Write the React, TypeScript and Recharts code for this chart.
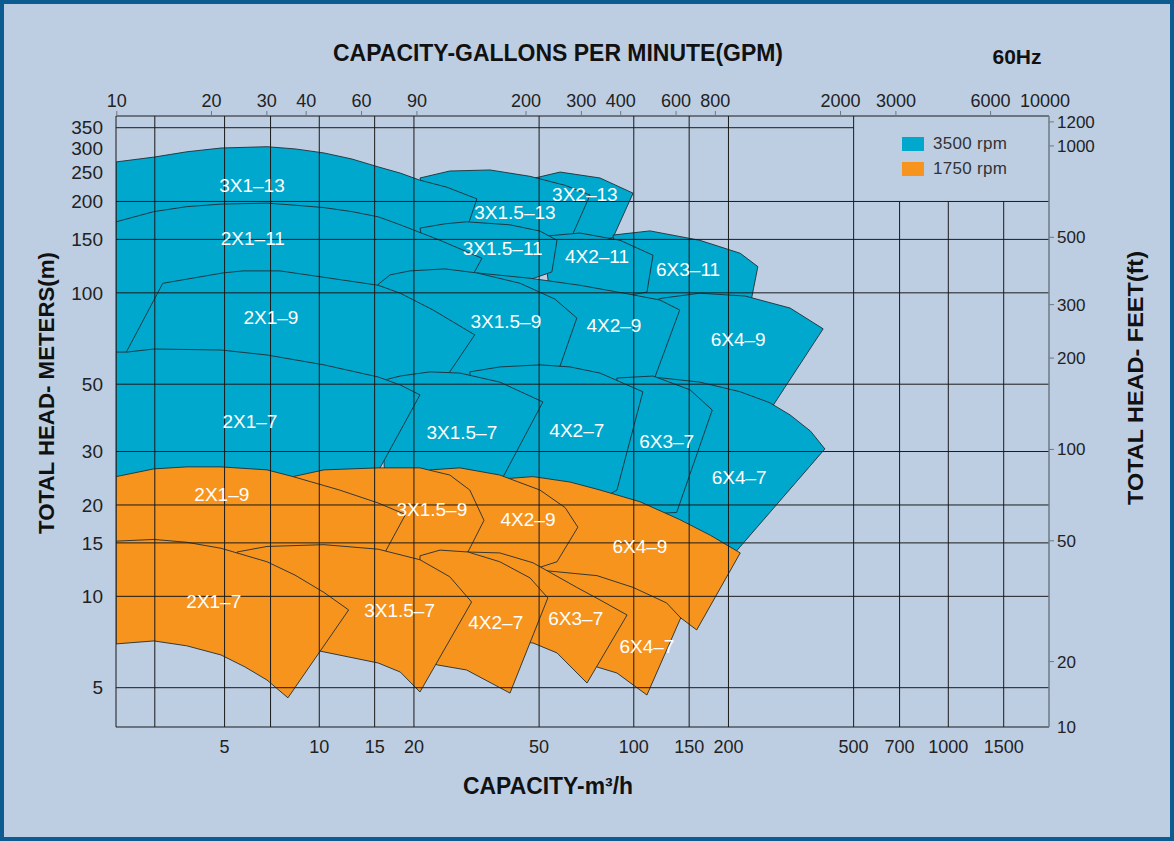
import React from 'react'
import { ComposedChart, Area, XAxis, YAxis, ReferenceLine, ReferenceDot, Legend } from 'recharts'

const WIDTH = 1174
const HEIGHT = 841
const MARGIN = { top: 86, right: 65, bottom: 84, left: 56 }
const AXIS_W = 60
const AXIS_H = 30
const PLOT_RIGHT = WIDTH - MARGIN.right - AXIS_W
const PLOT_TOP = MARGIN.top + AXIS_H
const PLOT_BOTTOM = HEIGHT - MARGIN.bottom - AXIS_H

const BG = '#bdcee3'
const FRAME = '#0c5b91'
const CYAN = '#00a8cd'
const ORANGE = '#f7941d'
const EDGE = '#1f2e36'
const GRID = '#1a1a1a'
const TEXT = '#222'
const AXIS_GRAY = '#6e7884'
const FONT = '"Liberation Sans", Arial, sans-serif'

// axes (log): capacity m3/h, head m; top axis in GPM, right axis in feet
const FLOW_DOMAIN = [2.258, 2090]
const GPM_PER_M3H = 4.403
const HEAD_DOMAIN = [3.711, 382.5]
const FT_PER_M = 3.2808

const flowTicks = [5, 10, 15, 20, 50, 100, 150, 200, 500, 700, 1000, 1500]
const gpmTicks = [10, 20, 30, 40, 60, 90, 200, 300, 400, 600, 800, 2000, 3000, 6000, 10000]
const headTicks = [5, 10, 15, 20, 30, 50, 100, 150, 200, 250, 300, 350]
const feetTicks = [10, 20, 50, 100, 200, 300, 500, 1000, 1200]

const gridFlow = [3, 5, 7, 10, 15, 20, 50, 100, 150, 200, 500]
const gridFlowBelowLegend = [700, 1000, 1500]
const gridHead = [5, 10, 15, 20, 30, 50, 100, 150, 200]

// 3500 rpm regions, [m3/h, m] outlines
const c3x1_13 = [[2.26, 270], [2.98, 280], [3.79, 291.5], [4.87, 300], [6.82, 303], [8.37, 298], [10.35, 289], [12.7, 276], [15.4, 260], [18.1, 248], [20.9, 235], [25.4, 223], [31.7, 204], [29.0, 155], [18.1, 159], [8.68, 166], [4.17, 166], [2.26, 156]]
const c3x15_13 = [[20.9, 239], [26.0, 252], [34.9, 254], [46.8, 242], [60.5, 226], [72.6, 210], [63.6, 154], [43.5, 149], [24.2, 149]]
const c3x2_13 = [[48.5, 239], [58.3, 250], [78.1, 239], [99.5, 213], [85.9, 152], [62.7, 143.5], [50.3, 143.5]]
const c6x3_11 = [[85.9, 155], [112.6, 160], [162, 149], [218, 135], [248, 122], [237, 96.1], [162, 91.2], [112.6, 91.2], [90.4, 94.7]]
const c4x2_11 = [[51.4, 153.5], [67.4, 157.4], [90.4, 149], [115.1, 133], [110.1, 100.5], [78.1, 94.7], [54.1, 98.2]]
const c3x15_11 = [[20.9, 163.4], [25.1, 168.8], [29.4, 171.4], [40.4, 167.5], [50.3, 159.8], [57.0, 149], [54.9, 117.2], [37.5, 102], [22.5, 110]]
const c2x1_11 = [[2.26, 171.4], [2.98, 185.2], [3.79, 192.3], [4.87, 196], [6.82, 197.5], [8.37, 194.4], [10.35, 190.9], [12.7, 185.2], [15.4, 178], [18.1, 167.5], [24.2, 149], [32.9, 130], [30.5, 112.5], [30.5, 94.7], [12.5, 84.5], [4.17, 81.4], [2.69, 60.1], [2.26, 60.1]]
const c6x4_9 = [[116.8, 94.7], [123.7, 96.1], [162, 99.7], [226, 97.6], [314, 89.1], [400, 76.1], [275, 42.0], [162, 47.2], [116.8, 49.0]]
const c4x2_9 = [[31.7, 116.3], [46.8, 111.7], [67.4, 105.9], [97.3, 98.9], [121, 94.7], [140, 87.8], [116.8, 52.8], [78.1, 47.9], [50.3, 49.7], [34.9, 51.6]]
const c3x15_9 = [[15.4, 106.7], [16.8, 114.6], [19.4, 118.1], [25.1, 119.9], [31.7, 116.3], [43.5, 107.5], [56.1, 95.4], [65.9, 82.6], [58.3, 57.4], [37.5, 47.9], [24.2, 49.0], [16.8, 49.0]]
const c2x1_9 = [[3.18, 107.5], [4.94, 116.3], [5.72, 118.1], [7.5, 118.1], [10.35, 112.5], [15.4, 105.9], [18.1, 99.7], [23.0, 87.8], [31.2, 72.7], [26.0, 54.9], [26.0, 49.7], [15.6, 48.6], [8.68, 54.9], [4.17, 60.1], [2.39, 61.5]]
const c6x4_7 = [[115.1, 52.8], [162, 50.8], [218, 47.2], [270, 43.5], [314, 39.6], [365, 35.0], [405, 30.6], [209.5, 13.9], [162, 14.7], [121, 16.5], [116.8, 44.4]]
const c6x3_7 = [[88.4, 52.4], [115.1, 53.2], [151, 47.9], [177.6, 41.1], [136.9, 18.9], [104.6, 18.6], [84.0, 20.0]]
const c4x2_7 = [[30.1, 54.9], [37.5, 57.0], [50.3, 57.9], [62.7, 57.0], [78.1, 54.4], [106.9, 47.2], [88.4, 22.4], [78.1, 20.8], [50.3, 21.6], [32.4, 22.4]]
const c3x15_7 = [[15.6, 51.2], [18.1, 53.2], [22.5, 54.9], [28.0, 54.4], [37.5, 50.8], [51.4, 43.7], [38.3, 24.6], [38.3, 22.4], [20.9, 23.3], [16.2, 23.3]]
const c2x1_7 = [[2.26, 63.8], [2.45, 63.8], [2.98, 65.3], [4.87, 64.8], [6.82, 62.4], [10.35, 57.9], [15.4, 52.8], [18.1, 49.7], [20.9, 46.1], [15.1, 24.9], [15.1, 21.6], [6.02, 21.6], [2.26, 21.6]]

// 1750 rpm regions
const o6x4_9 = [[34.9, 24.2], [47.8, 24.8], [62.7, 23.8], [78.1, 22.4], [104.6, 20.5], [140, 17.9], [175, 15.9], [218, 13.9], [158.5, 7.75], [141, 8.49], [104.6, 9.73], [72.6, 10.9], [50.3, 11.3], [37.5, 11.3]]
const o4x2_9 = [[22.5, 26.1], [28.0, 26.5], [37.5, 25.1], [50.3, 22.4], [60.5, 19.6], [66.4, 16.9], [57.0, 13.0], [37.5, 11.3], [24.2, 11.7]]
const o3x15_9 = [[8.25, 24.8], [10.35, 26.1], [15.4, 26.5], [20.9, 26.5], [26.0, 25.1], [30.1, 22.4], [33.4, 17.8], [29.7, 14.0], [20.9, 11.3], [12.5, 10.9], [8.68, 11.3]]
const o2x1_9 = [[2.26, 24.8], [2.98, 26.3], [3.79, 26.7], [4.87, 26.7], [6.82, 26.1], [8.25, 24.8], [11.6, 22.4], [15.4, 20.3], [18.8, 18.6], [16.2, 14.0], [12.5, 11.3], [6.02, 11.3], [2.26, 11.3]]
const o6x4_7 = [[50.3, 12.2], [76.4, 11.7], [99.5, 10.7], [127.2, 9.51], [141, 8.49], [110.1, 4.73], [88.4, 5.59], [76.4, 5.85], [58.3, 6.91]]
const o6x3_7 = [[29.4, 14.0], [37.5, 13.9], [47.8, 12.9], [65.9, 10.7], [78.1, 9.73], [95.2, 8.68], [71.0, 5.18], [57.0, 6.51], [47.8, 7.02], [37.5, 7.18]]
const o4x2_7 = [[20.9, 13.6], [24.2, 14.2], [29.7, 14.0], [37.5, 13.0], [46.8, 11.5], [53.3, 9.88], [40.4, 4.8], [29.4, 5.72], [23.8, 5.94], [20.9, 6.17]]
const o3x15_7 = [[5.48, 14.0], [6.82, 14.6], [10.35, 14.8], [15.4, 14.3], [20.9, 13.2], [26.0, 11.6], [30.5, 9.58], [20.9, 4.84], [18.1, 5.63], [15.4, 6.03], [10.35, 6.56], [8.07, 6.91], [6.02, 8.36]]
const o2x1_7 = [[2.26, 15.2], [2.98, 15.4], [3.79, 15.07], [4.87, 14.4], [6.82, 13.0], [8.37, 11.75], [10.35, 10.3], [12.4, 9.02], [7.95, 4.63], [6.82, 5.3], [5.81, 5.85], [4.87, 6.41], [3.79, 6.87], [2.98, 7.13], [2.26, 6.97]]

// label anchors [name, m3/h, m]
const cyanLabels: [string, number, number][] = [
  ['3X1–13', 6.11, 226], ['3X1.5–13', 41.9, 184], ['3X2–13', 69.9, 211.5],
  ['2X1–11', 6.15, 151.3], ['3X1.5–11', 38.3, 140.1], ['4X2–11', 76.4, 131.9], ['6X3–11', 148.8, 119.9],
  ['2X1–9', 7.02, 83.3], ['3X1.5–9', 39.2, 80.8], ['4X2–9', 86.5, 78.4], ['6X4–9', 214.8, 70.4],
  ['2X1–7', 6.02, 37.8], ['3X1.5–7', 28.4, 34.8], ['4X2–7', 65.9, 35.3], ['6X3–7', 127.2, 32.5], ['6X4–7', 216.4, 24.6],
]
const orangeLabels: [string, number, number][] = [
  ['2X1–9', 4.9, 21.7], ['3X1.5–9', 22.8, 19.3], ['4X2–9', 46.1, 17.9], ['6X4–9', 104.6, 14.6],
  ['2X1–7', 4.62, 9.66], ['3X1.5–7', 18.0, 9.02], ['4X2–7', 36.4, 8.23], ['6X3–7', 65.4, 8.49], ['6X4–7', 110.1, 6.86],
]

const speeds = [
  { label: '3500 rpm', color: CYAN },
  { label: '1750 rpm', color: ORANGE },
]

// drawing order: upper rows first, right to left inside a row
const cyanRegions = [c3x2_13, c3x15_13, c3x1_13, c6x3_11, c4x2_11, c3x15_11, c2x1_11, c6x4_9, c4x2_9, c3x15_9, c2x1_9, c6x4_7, c6x3_7, c4x2_7, c3x15_7, c2x1_7]
const orangeRegions = [o6x4_9, o4x2_9, o3x15_9, o2x1_9, o6x4_7, o6x3_7, o4x2_7, o3x15_7, o2x1_7]

const outline = (pts: number[][]) => [...pts, pts[0]].map(([q, h]) => ({ q, h }))
const gpmRows = gpmTicks.map((gpm) => ({ gpm }))

function GpmTick(props: any) {
  const { x, payload } = props
  const inside = x <= PLOT_RIGHT + 0.5
  const tx = inside ? x : PLOT_RIGHT - 4
  return (
    <g>
      {inside && <line x1={x} x2={x} y1={PLOT_TOP} y2={PLOT_TOP - 5} stroke={AXIS_GRAY} />}
      <text x={tx} y={PLOT_TOP - 9} textAnchor="middle" fontSize={18} fill={TEXT} fontFamily={FONT}>
        {payload.value}
      </text>
    </g>
  )
}

function FeetTick(props: any) {
  const { y, payload } = props
  const inside = y <= PLOT_BOTTOM + 0.5
  const ty = inside ? y : PLOT_BOTTOM
  return (
    <g>
      {inside && <line x1={PLOT_RIGHT} x2={PLOT_RIGHT + 5} y1={y} y2={y} stroke={AXIS_GRAY} />}
      <text x={PLOT_RIGHT + 8} y={ty} dy="0.35em" fontSize={17} fill={TEXT} fontFamily={FONT}>
        {payload.value}
      </text>
    </g>
  )
}

function RpmLegend() {
  return (
    <div style={{ fontFamily: FONT }}>
      {speeds.map((s) => (
        <div key={s.label} style={{ display: 'flex', alignItems: 'center', height: 25 }}>
          <span style={{ display: 'inline-block', width: 22, height: 14, background: s.color, marginRight: 9 }} />
          <span style={{ fontSize: 17, color: '#333', letterSpacing: 0.3 }}>{s.label}</span>
        </div>
      ))}
    </div>
  )
}

export default function App() {
  return (
    <div style={{ position: 'absolute', left: 0, top: 0, width: WIDTH, height: HEIGHT, background: BG, overflow: 'hidden' }}>
      <ComposedChart width={WIDTH} height={HEIGHT} margin={MARGIN} data={gpmRows} style={{ fontFamily: FONT }}>
        <XAxis
          xAxisId="q" dataKey="q" type="number" scale="log" domain={FLOW_DOMAIN} allowDataOverflow
          ticks={flowTicks} interval={0} orientation="bottom" height={AXIS_H}
          tickLine={false} tickSize={0} tickMargin={13}
          axisLine={{ stroke: GRID }} tick={{ fontSize: 18, fill: TEXT }}
        />
        <XAxis
          xAxisId="gpm" dataKey="gpm" type="number" scale="log" allowDataOverflow
          domain={[FLOW_DOMAIN[0] * GPM_PER_M3H, FLOW_DOMAIN[1] * GPM_PER_M3H]}
          ticks={gpmTicks} interval={0} orientation="top" height={AXIS_H}
          tickLine={false} axisLine={{ stroke: GRID }} tick={<GpmTick />}
        />
        <YAxis
          yAxisId="m" type="number" scale="log" domain={HEAD_DOMAIN} allowDataOverflow
          ticks={headTicks} interval={0} orientation="left" width={AXIS_W}
          tickLine={false} tickSize={0} tickMargin={13}
          axisLine={{ stroke: GRID }} tick={{ fontSize: 19, fill: TEXT }}
        />
        <YAxis
          yAxisId="ft" type="number" scale="log" allowDataOverflow
          domain={[HEAD_DOMAIN[0] * FT_PER_M, HEAD_DOMAIN[1] * FT_PER_M]}
          ticks={feetTicks} interval={0} orientation="right" width={AXIS_W}
          tickLine={false} axisLine={{ stroke: AXIS_GRAY, strokeWidth: 1.5 }} tick={<FeetTick />}
        />

        {cyanRegions.map((r, i) => (
          <Area
            key={`c${i}`} xAxisId="q" yAxisId="m" data={outline(r)} dataKey="h" type="linear"
            fill={CYAN} fillOpacity={1} stroke={EDGE} strokeWidth={0.9}
            dot={false} activeDot={false} isAnimationActive={false}
          />
        ))}
        {orangeRegions.map((r, i) => (
          <Area
            key={`o${i}`} xAxisId="q" yAxisId="m" data={outline(r)} dataKey="h" type="linear"
            fill={ORANGE} fillOpacity={1} stroke={EDGE} strokeWidth={0.9}
            dot={false} activeDot={false} isAnimationActive={false}
          />
        ))}

        {gridFlow.map((v) => (
          <ReferenceLine key={`gx${v}`} xAxisId="q" yAxisId="m" x={v} stroke={GRID} strokeWidth={1} />
        ))}
        {gridFlowBelowLegend.map((v) => (
          <ReferenceLine
            key={`gxl${v}`} xAxisId="q" yAxisId="m" stroke={GRID} strokeWidth={1}
            segment={[{ x: v, y: 200 }, { x: v, y: HEAD_DOMAIN[0] }]}
          />
        ))}
        {gridHead.map((v) => (
          <ReferenceLine key={`gy${v}`} xAxisId="q" yAxisId="m" y={v} stroke={GRID} strokeWidth={1} />
        ))}
        <ReferenceLine
          xAxisId="q" yAxisId="m" stroke={GRID} strokeWidth={1}
          segment={[{ x: FLOW_DOMAIN[0], y: 350 }, { x: 500, y: 350 }]}
        />

        {cyanLabels.concat(orangeLabels).map(([name, q, h], i) => (
          <ReferenceDot
            key={`l${i}`} xAxisId="q" yAxisId="m" x={q} y={h} r={0} fill="none" stroke="none"
            label={{ value: name, position: 'center', fill: '#ffffff', fontSize: 19 }}
          />
        ))}

        <Legend
          layout="horizontal" verticalAlign="middle" align="center"
          content={() => <RpmLegend />}
          wrapperStyle={{ left: 902, top: 131, width: 150, height: 52 }}
        />
      </ComposedChart>

      <svg width={WIDTH} height={HEIGHT} style={{ position: 'absolute', left: 0, top: 0, pointerEvents: 'none' }}>
        <g fontFamily={FONT} fontWeight="bold" fill="#111">
          <text x={558} y={61} textAnchor="middle" fontSize={23} textLength={450} lengthAdjust="spacingAndGlyphs">
            CAPACITY-GALLONS PER MINUTE(GPM)
          </text>
          <text x={1017} y={64} textAnchor="middle" fontSize={21}>60Hz</text>
          <text x={548} y={794} textAnchor="middle" fontSize={23} textLength={170} lengthAdjust="spacingAndGlyphs">
            CAPACITY-m³/h
          </text>
          <text
            x={0} y={0} transform="translate(54 393) rotate(-90)" textAnchor="middle" fontSize={22}
            textLength={282} lengthAdjust="spacingAndGlyphs"
          >
            TOTAL HEAD- METERS(m)
          </text>
          <text
            x={0} y={0} transform="translate(1143 378) rotate(-90)" textAnchor="middle" fontSize={22}
            textLength={254} lengthAdjust="spacingAndGlyphs"
          >
            TOTAL HEAD- FEET(ft)
          </text>
        </g>
      </svg>
      <div style={{ position: 'absolute', inset: 0, border: `4px solid ${FRAME}`, pointerEvents: 'none' }} />
    </div>
  )
}
